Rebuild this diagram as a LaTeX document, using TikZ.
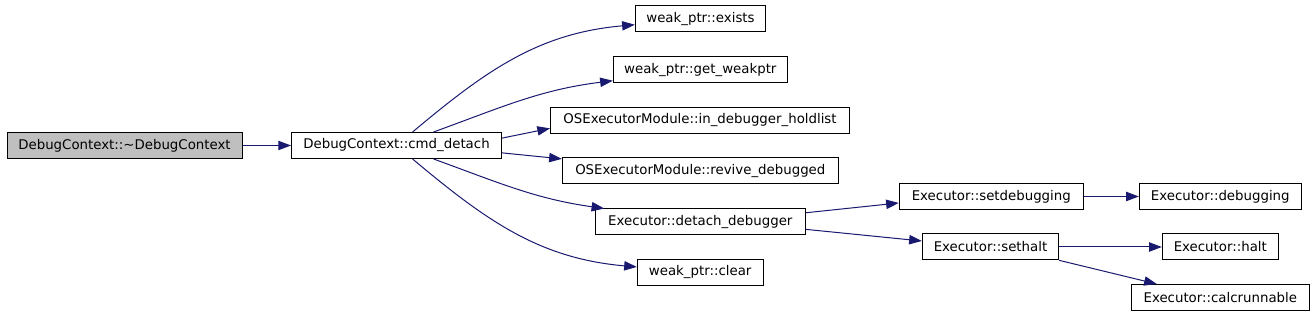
\documentclass[tikz,border=0pt]{standalone}
\usepackage{fontspec}
\setmainfont{DejaVu Sans}
\usetikzlibrary{arrows.meta}
\definecolor{edgeblue}{RGB}{25,25,112}
\definecolor{rootgray}{RGB}{191,191,191}

\begin{document}
\begin{tikzpicture}[x=0.75pt,y=-0.75pt]
    \pgfmathsetmacro{\boxh}{19.5}
    \tikzset{every node/.style={font=\fontsize{10}{12}\selectfont},
             fn/.style={draw=black,line width=0.75pt,fill=white,minimum height=\boxh pt,inner sep=0pt},
             call/.style={draw=edgeblue,line width=0.75pt,-{Triangle[length=9.5pt,width=7pt]}}}
    \useasboundingbox (0,0) rectangle (1315,316);
    \node[fn,fill=rootgray,minimum width=176.25pt] (dtor) at (124.5,145.5) {DebugContext::\textasciitilde DebugContext};
\node[fn,minimum width=157.5pt] (cmd-detach) at (396.5,145.5) {DebugContext::cmd\_detach};
\node[fn,minimum width=97.8pt] (wp-exists) at (700.5,19) {weak\_ptr::exists};
\node[fn,minimum width=130.5pt] (wp-get) at (700.3,70) {weak\_ptr::get\_weakptr};
\node[fn,minimum width=224.25pt] (ose-holdlist) at (700,120.5) {OSExecutorModule::in\_debugger\_holdlist};
\node[fn,minimum width=207pt] (ose-revive) at (700.3,171) {OSExecutorModule::revive\_debugged};
\node[fn,minimum width=157.5pt] (ex-detach) at (700.3,222) {Executor::detach\_debugger};
\node[fn,minimum width=94.3pt] (wp-clear) at (700.2,272.5) {weak\_ptr::clear};
\node[fn,minimum width=138pt] (ex-setdbg) at (991.3,196.5) {Executor::setdebugging};
\node[fn,minimum width=121.5pt] (ex-dbg) at (1220.3,196.5) {Executor::debugging};
\node[fn,minimum width=102.3pt] (ex-sethalt) at (990.5,247) {Executor::sethalt};
\node[fn,minimum width=87pt] (ex-halt) at (1220.3,247) {Executor::halt};
\node[fn,minimum width=133.5pt] (ex-calc) at (1220.3,297.5) {Executor::calcrunnable};
\draw[call] (dtor) -- (cmd-detach);
\draw[call] (cmd-detach) to[out=40,in=185] (wp-exists);
\draw[call] (cmd-detach) to[out=20,in=187] (wp-get);
\draw[call] (cmd-detach.4.6) -- (ose-holdlist.183);
\draw[call] (cmd-detach.-4.6) -- (ose-revive.175.4);
\draw[call] (cmd-detach) to[out=-20,in=172] (ex-detach);
\draw[call] (cmd-detach) to[out=-40,in=175] (wp-clear);
\draw[call] (ex-detach.5.4) -- (ex-setdbg.184);
\draw[call] (ex-detach.-4.9) -- (ex-sethalt.175);
\draw[call] (ex-setdbg) -- (ex-dbg);
\draw[call] (ex-sethalt) -- (ex-halt);
\draw[call] (ex-sethalt.-11.7) -- (ex-calc.168);

\end{tikzpicture}
\end{document}
